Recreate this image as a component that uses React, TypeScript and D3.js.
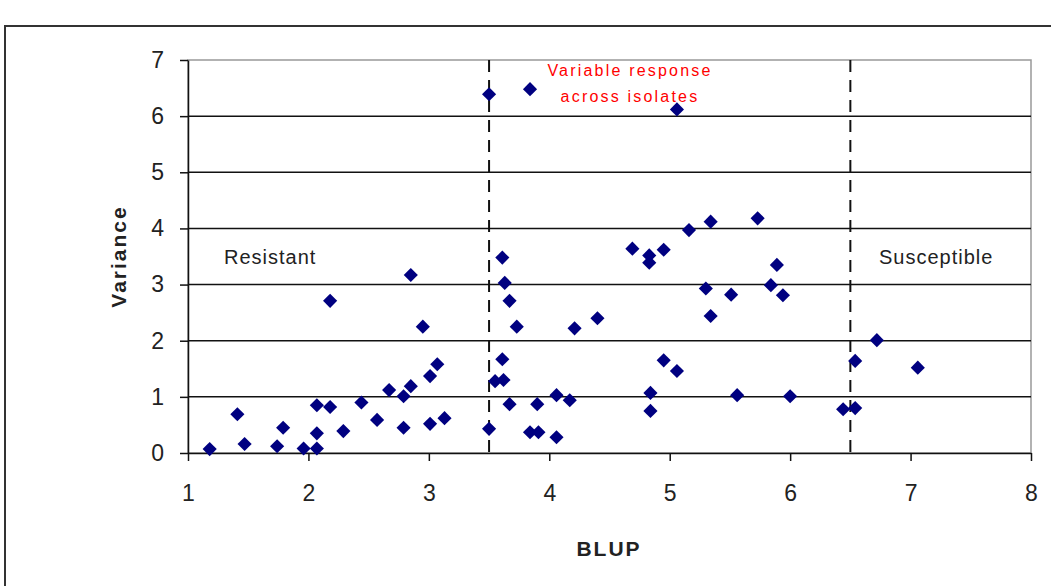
import React, { useEffect, useRef } from "react";
import * as d3 from "d3";

// BLUP (x) and variance (y) per line
const blup = [
  1.18, 1.41, 1.47, 1.74, 1.79, 1.96, 2.07, 2.07, 2.07, 2.18, 2.18, 2.29, 2.44,
  2.57, 2.67, 2.79, 2.79, 2.85, 2.85, 2.95, 3.01, 3.01, 3.07, 3.13, 3.5, 3.5,
  3.84, 5.06, 3.61, 3.63, 3.67, 3.73, 4.21, 4.4, 4.69, 4.83, 4.83, 4.95, 5.16,
  5.34, 5.73, 5.89, 5.3, 5.51, 5.84, 5.94, 5.34, 3.61, 3.55, 3.62, 3.67, 3.9,
  4.06, 4.17, 3.84, 3.91, 4.06, 4.95, 5.06, 4.84, 4.84, 5.56, 6.0, 6.44, 6.54,
  6.54, 6.72, 7.06,
];
const variance = [
  0.07, 0.69, 0.16, 0.12, 0.45, 0.08, 0.08, 0.35, 0.85, 0.82, 2.71, 0.39, 0.9,
  0.59, 1.12, 1.01, 0.45, 1.19, 3.17, 2.25, 1.37, 0.52, 1.58, 0.62, 0.43, 6.39,
  6.48, 6.12, 3.48, 3.03, 2.71, 2.25, 2.22, 2.4, 3.64, 3.52, 3.39, 3.62, 3.97,
  4.12, 4.18, 3.35, 2.93, 2.82, 2.99, 2.81, 2.44, 1.67, 1.28, 1.3, 0.87, 0.87,
  1.03, 0.94, 0.37, 0.37, 0.28, 1.65, 1.46, 1.07, 0.75, 1.03, 1.01, 0.78, 0.8,
  1.64, 2.01, 1.52,
];
const xTicks = [1, 2, 3, 4, 5, 6, 7, 8];
const yTicks = [0, 1, 2, 3, 4, 5, 6, 7];
const cutoffs = [3.5, 6.5];

export default function App() {
  const ref = useRef<SVGSVGElement>(null);

  useEffect(() => {
    const svg = d3.select(ref.current);
    svg.selectAll("*").remove();

    const x = d3.scaleLinear().domain([1, 8]).range([188, 1031]);
    const y = d3.scaleLinear().domain([0, 7]).range([453, 60]);
    const font = "Liberation Sans, Arial, sans-serif";
    const fmt = d3.format("d");

    // outer frame
    svg
      .append("rect")
      .attr("x", 5)
      .attr("y", 26)
      .attr("width", 1100)
      .attr("height", 700)
      .attr("fill", "white")
      .attr("stroke", "#333")
      .attr("stroke-width", 2);

    // plot area border
    svg
      .append("rect")
      .attr("x", x(1))
      .attr("y", y(7))
      .attr("width", x(8) - x(1))
      .attr("height", y(0) - y(7))
      .attr("fill", "none")
      .attr("stroke", "#999")
      .attr("stroke-width", 1.5);

    // gridlines
    svg
      .append("g")
      .selectAll("line")
      .data(yTicks.filter((d) => d > 0 && d < 7))
      .join("line")
      .attr("x1", x(1))
      .attr("x2", x(8))
      .attr("y1", (d) => y(d))
      .attr("y2", (d) => y(d))
      .attr("stroke", "#111")
      .attr("stroke-width", 1.5);

    // cutoff lines
    svg
      .append("g")
      .selectAll("line")
      .data(cutoffs)
      .join("line")
      .attr("x1", (d) => x(d))
      .attr("x2", (d) => x(d))
      .attr("y1", y(7))
      .attr("y2", y(0))
      .attr("stroke", "#111")
      .attr("stroke-width", 2)
      .attr("stroke-dasharray", "12,8");

    // y axis
    const yAxis = svg
      .append("g")
      .attr("transform", `translate(${x(1)},0)`)
      .call(
        d3.axisLeft(y).tickValues(yTicks).tickFormat(fmt).tickSize(8).tickSizeOuter(0)
      );
    yAxis.select(".domain").attr("stroke", "#111").attr("stroke-width", 1.5);
    yAxis.selectAll(".tick line").attr("stroke", "#111").attr("stroke-width", 1.5);
    yAxis
      .selectAll(".tick text")
      .attr("font-family", font)
      .attr("font-size", 23)
      .attr("fill", "#222")
      .attr("x", -24);

    // x axis
    const xAxis = svg
      .append("g")
      .attr("transform", `translate(0,${y(0)})`)
      .call(
        d3.axisBottom(x).tickValues(xTicks).tickFormat(fmt).tickSize(8).tickSizeOuter(0)
      );
    xAxis.select(".domain").attr("stroke", "#111").attr("stroke-width", 1.5);
    xAxis.selectAll(".tick line").attr("stroke", "#111").attr("stroke-width", 1.5);
    xAxis
      .selectAll(".tick text")
      .attr("font-family", font)
      .attr("font-size", 23)
      .attr("fill", "#222")
      .attr("y", 32);

    // points
    const diamond = d3.symbol().type(d3.symbolSquare).size(100);
    svg
      .append("g")
      .selectAll("path")
      .data(d3.zip(blup, variance))
      .join("path")
      .attr("d", diamond)
      .attr("transform", (d) => `translate(${x(d[0])},${y(d[1])}) rotate(45)`)
      .attr("fill", "#000080");

    // region labels
    svg
      .append("text")
      .attr("x", 224)
      .attr("y", y(3.5) + 7)
      .attr("font-family", font)
      .attr("font-size", 20)
      .attr("letter-spacing", 1)
      .attr("fill", "#222")
      .text("Resistant");
    svg
      .append("text")
      .attr("x", 879)
      .attr("y", y(3.5) + 7)
      .attr("font-family", font)
      .attr("font-size", 20)
      .attr("letter-spacing", 1)
      .attr("fill", "#222")
      .text("Susceptible");

    const note = svg
      .append("text")
      .attr("text-anchor", "middle")
      .attr("font-family", font)
      .attr("font-size", 16)
      .attr("letter-spacing", 2.2)
      .attr("fill", "#ff0000");
    note.append("tspan").attr("x", 630).attr("y", 76).text("Variable response");
    note.append("tspan").attr("x", 630).attr("y", 102).text("across isolates");

    // axis titles
    svg
      .append("text")
      .attr("x", 609)
      .attr("y", 556)
      .attr("text-anchor", "middle")
      .attr("font-family", font)
      .attr("font-weight", "bold")
      .attr("font-size", 21)
      .attr("letter-spacing", 2)
      .attr("fill", "#222")
      .text("BLUP");
    svg
      .append("text")
      .attr("transform", `translate(126,${(y(0) + y(7)) / 2}) rotate(-90)`)
      .attr("text-anchor", "middle")
      .attr("font-family", font)
      .attr("font-weight", "bold")
      .attr("font-size", 21)
      .attr("letter-spacing", 2)
      .attr("fill", "#222")
      .text("Variance");
  }, []);

  return (
    <svg
      ref={ref}
      width={1051}
      height={586}
      style={{ position: "absolute", left: 0, top: 0, background: "white" }}
    />
  );
}
